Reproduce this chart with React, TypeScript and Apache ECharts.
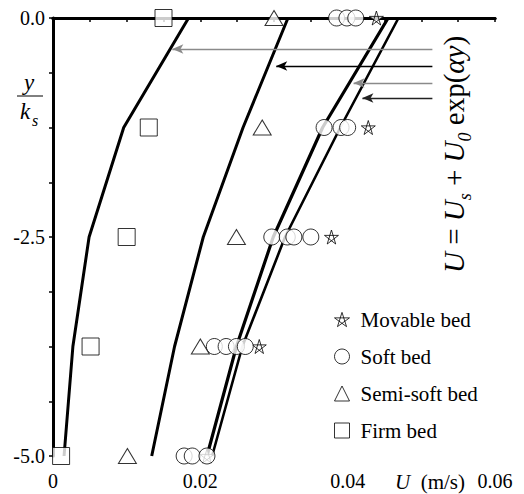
import React, { useEffect, useRef } from 'react';
import * as echarts from 'echarts';

// depth levels y/ks
const levels = [0, -1.25, -2.5, -3.75, -5];

// measured velocities U (m/s)
const firmU = [0.015, 0.013, 0.01, 0.0051, 0.0011];
const semiSoftU = [0.03, 0.0284, 0.0249, 0.02, 0.0101];
const movableU = [0.0439, 0.0428, 0.0378, 0.028, 0.0209];
const softPoints: [number, number][] = [
  [0.0385, 0], [0.0399, 0], [0.0411, 0],
  [0.0368, -1.25], [0.0391, -1.25], [0.04, -1.25],
  [0.0297, -2.5], [0.0318, -2.5], [0.0327, -2.5], [0.035, -2.5],
  [0.0219, -3.75], [0.0235, -3.75], [0.0249, -3.75], [0.0261, -3.75],
  [0.0178, -5], [0.0189, -5], [0.0209, -5],
];

// fitted profiles U = Us + U0 exp(alpha y)
const firmFitU = [0.0184, 0.0096, 0.0049, 0.0027, 0.0015];
const semiFitU = [0.0319, 0.0258, 0.0204, 0.0165, 0.0134];
const softFitU = [0.0455, 0.0366, 0.0299, 0.0249, 0.0209];
const movableFitU = [0.0469, 0.039, 0.0315, 0.0257, 0.0216];

// annotation arrows
const arrowY = [-0.354, -0.548, -0.742, -0.913];
const arrowTipU = [0.0162, 0.0303, 0.0408, 0.042];
const arrowStartU = 0.0515;
const arrowColors = ['#8a8a8a', '#000000', '#8a8a8a', '#222222'];

// tick labels
const xTickLabels = ['0', '0.02', '0.04', '0.06'];
const yTickLabels = ['0.0', '-2.5', '-5.0'];

const legendNames = ['Movable bed', 'Soft bed', 'Semi-soft bed', 'Firm bed'];

const FONT = 'Liberation Serif';
const starPath = 'path://M50,2 L79,93 L2,37 L98,37 L21,93 Z';

const pair = (us: number[]) => levels.map((y, i) => [us[i], y]);

export default function App() {
  const ref = useRef<HTMLDivElement>(null);
  useEffect(() => {
    document.body.style.margin = '0';
    const chart = echarts.init(ref.current!, null, { renderer: 'svg' });
    const scatterStyle = { color: '#ffffff', borderColor: '#000000', borderWidth: 1 };
    const fitLine = (data: number[][], w: number) => ({
      type: 'line',
      data,
      symbol: 'none',
      lineStyle: { color: '#000', width: w },
      silent: true,
      z: 1,
    });
    const symbolFor: Record<string, string> = {
      'Movable bed': starPath,
      'Soft bed': 'circle',
      'Semi-soft bed': 'triangle',
      'Firm bed': 'rect',
    };
    const option: any = {
      animation: false,
      grid: { left: 53, right: 29, top: 18, bottom: 38 },
      xAxis: [
        {
          type: 'value',
          min: 0,
          max: 0.06,
          interval: 0.005,
          axisLine: { lineStyle: { color: '#000', width: 3 } },
          axisTick: { inside: false, length: 4, lineStyle: { color: '#000', width: 1.5 } },
          splitLine: { show: false },
          axisLabel: {
            color: '#000',
            fontFamily: FONT,
            fontSize: 20,
            margin: 15,
            formatter: (v: number) => {
              const i = Math.round(v / 0.02);
              return Math.abs(v - i * 0.02) < 1e-9 ? xTickLabels[i] : '';
            },
          },
        },
        {
          type: 'value',
          position: 'top',
          min: 0,
          max: 0.06,
          axisLine: { show: true, lineStyle: { color: '#000', width: 3 } },
          axisTick: { show: false },
          axisLabel: { show: false },
          splitLine: { show: false },
        },
      ],
      yAxis: [
        {
          type: 'value',
          min: -5,
          max: 0,
          interval: 0.625,
          axisLine: { lineStyle: { color: '#000', width: 3 } },
          axisTick: { inside: false, length: 4, lineStyle: { color: '#000', width: 1.5 } },
          splitLine: { show: false },
          axisLabel: {
            color: '#000',
            fontFamily: FONT,
            fontSize: 20,
            margin: 8,
            formatter: (v: number) => {
              const i = Math.round(-v / 2.5);
              return Math.abs(v + i * 2.5) < 1e-9 ? yTickLabels[i] : '';
            },
          },
        },
        {
          type: 'value',
          position: 'right',
          min: -5,
          max: 0,
          axisLine: { show: true, lineStyle: { color: '#000', width: 2 } },
          axisTick: { show: false },
          axisLabel: { show: false },
          splitLine: { show: false },
        },
      ],
      legend: {
        orient: 'vertical',
        left: 334,
        top: 309,
        padding: 0,
        itemWidth: 15,
        itemHeight: 15,
        itemGap: 16,
        data: legendNames.map((name) => ({
          name,
          icon: symbolFor[name],
          itemStyle: { color: '#ffffff', borderColor: '#000000', borderWidth: 1 },
        })),
        textStyle: { color: '#000', fontFamily: FONT, fontSize: 21, padding: [0, 0, 0, 6] },
      },
      series: [
        {
          ...fitLine(pair(firmFitU), 3),
          markLine: {
            silent: true,
            symbol: ['none', 'arrow'],
            symbolSize: [7, 11],
            label: { show: false },
            lineStyle: { type: 'solid', width: 1.4 },
            data: arrowY.map((y, i) => [
              { coord: [arrowStartU, y], lineStyle: { color: arrowColors[i], type: 'solid', width: 1.4 }, itemStyle: { color: arrowColors[i] } },
              { coord: [arrowTipU[i], y] },
            ]),
          },
        },
        fitLine(pair(semiFitU), 3),
        fitLine(pair(softFitU), 3.2),
        fitLine(pair(movableFitU), 2.6),
        {
          name: 'Movable bed',
          type: 'scatter',
          data: pair(movableU),
          symbol: starPath,
          symbolSize: 14,
          itemStyle: scatterStyle,
          z: 3,
        },
        {
          name: 'Soft bed',
          type: 'scatter',
          data: softPoints,
          symbol: 'circle',
          symbolSize: 16,
          itemStyle: scatterStyle,
          z: 4,
        },
        {
          name: 'Semi-soft bed',
          type: 'scatter',
          data: pair(semiSoftU),
          symbol: 'triangle',
          symbolSize: [18, 15],
          itemStyle: scatterStyle,
          z: 4,
        },
        {
          name: 'Firm bed',
          type: 'scatter',
          data: pair(firmU),
          symbol: 'rect',
          symbolSize: 17,
          itemStyle: scatterStyle,
          z: 4,
        },
      ],
      graphic: [
        {
          type: 'group',
          x: 454,
          y: 273,
          rotation: Math.PI / 2,
          children: [
            {
              type: 'text',
              x: 0,
              y: 0,
              style: {
                text: '{i|U} = {i|U}{sub|s} + {i|U}{sub|0} exp({i|αy})',
                fontFamily: FONT,
                fontSize: 29,
                fill: '#000',
                align: 'left',
                verticalAlign: 'middle',
                lineHeight: 40,
                rich: {
                  i: { fontFamily: FONT, fontStyle: 'italic', fontSize: 29, lineHeight: 40 },
                  sub: { fontFamily: FONT, fontStyle: 'italic', fontSize: 18, verticalAlign: 'bottom' },
                },
              },
            },
          ],
        },
        {
          type: 'text',
          x: 29,
          y: 82,
          style: { text: 'y', fontFamily: FONT, fontStyle: 'italic', fontSize: 23, fill: '#000', align: 'center', verticalAlign: 'middle' },
        },
        {
          type: 'line',
          shape: { x1: 17, y1: 96, x2: 43, y2: 96 },
          style: { stroke: '#000', lineWidth: 1 },
        },
        {
          type: 'text',
          x: 25,
          y: 111,
          style: { text: 'k', fontFamily: FONT, fontStyle: 'italic', fontSize: 23, fill: '#000', align: 'center', verticalAlign: 'middle' },
        },
        {
          type: 'text',
          x: 35,
          y: 120,
          style: { text: 's', fontFamily: FONT, fontStyle: 'italic', fontSize: 16, fill: '#000', align: 'center', verticalAlign: 'middle' },
        },
        {
          type: 'text',
          x: 430,
          y: 482,
          style: {
            text: '{i|U}  (m/s)',
            fontFamily: FONT,
            fontSize: 21,
            fill: '#000',
            align: 'center',
            verticalAlign: 'middle',
            rich: { i: { fontFamily: FONT, fontStyle: 'italic', fontSize: 21 } },
          },
        },
      ],
    };
    chart.setOption(option);
    return () => chart.dispose();
  }, []);
  return <div ref={ref} style={{ width: 524, height: 494 }} />;
}
